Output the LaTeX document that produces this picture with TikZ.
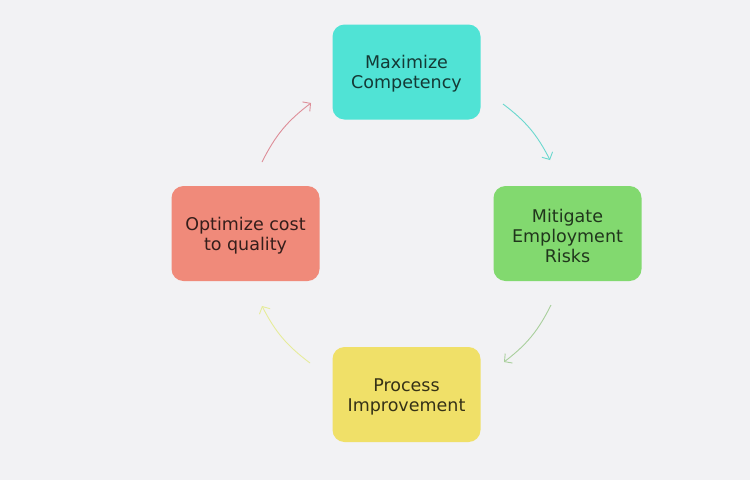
\documentclass[tikz,border=0pt]{standalone}
\usepackage{fontspec}
\setmainfont{DejaVu Sans}
\usetikzlibrary{arrows.meta}
\definecolor{bg}{HTML}{F2F2F4}
\definecolor{cteal}{HTML}{50E3D5}
\definecolor{cgreen}{HTML}{82D96F}
\definecolor{cyellow}{HTML}{F0E068}
\definecolor{csalmon}{HTML}{F08A7A}
\definecolor{ateal}{HTML}{6AD8CE}
\definecolor{agreen}{HTML}{A9CF9C}
\definecolor{ayellow}{HTML}{E6EC9A}
\definecolor{apink}{HTML}{DE8E98}
\tikzset{
  box/.style={rounded corners=12pt, minimum width=148pt, minimum height=95pt,
    align=center, font=\fontsize{17.5}{20}\selectfont, inner sep=0pt},
  boxtext/.style={inner sep=0pt, align=center, font=\fontsize{17.5}{20}\selectfont, yshift=-2pt},
  cyc/.style={line width=0.9pt, -{Straight Barb[length=5.5pt,width=12pt,line width=0.9pt]}, bend left=13}
}
\begin{document}
\begin{tikzpicture}[x=1pt,y=-1pt]
\useasboundingbox (0,0) rectangle (750,480);
\fill[bg] (0,0) rectangle (750,480);
\node[box, fill=cteal] (top) at (406.5,72) {};
\node[box, fill=cgreen] (right) at (567.5,233.5) {};
\node[box, fill=cyellow] (bottom) at (406.5,394.5) {};
\node[box, fill=csalmon] (left) at (245.5,233.5) {};
\node[boxtext, text=cteal!25!black] (toptext) at (top) {Maximize\\Competency};
\node[boxtext, text=cgreen!25!black] (righttext) at (right) {Mitigate\\Employment\\Risks};
\node[boxtext, text=cyellow!22!black] (bottomtext) at (bottom) {Process\\Improvement};
\node[boxtext, text=csalmon!22!black] (lefttext) at (left) {Optimize cost\\to quality};
\coordinate (a1s) at (503,104);
\coordinate (a1e) at (550,160);
\coordinate (a2s) at (551,305);
\coordinate (a2e) at (504,362);
\coordinate (a3s) at (310,363);
\coordinate (a3e) at (262,306);
\coordinate (a4s) at (262,162);
\coordinate (a4e) at (311,103);
\draw[cyc, ateal] (a1s) to (a1e);
\draw[cyc, agreen] (a2s) to (a2e);
\draw[cyc, ayellow] (a3s) to (a3e);
\draw[cyc, apink] (a4s) to (a4e);
\end{tikzpicture}
\end{document}
